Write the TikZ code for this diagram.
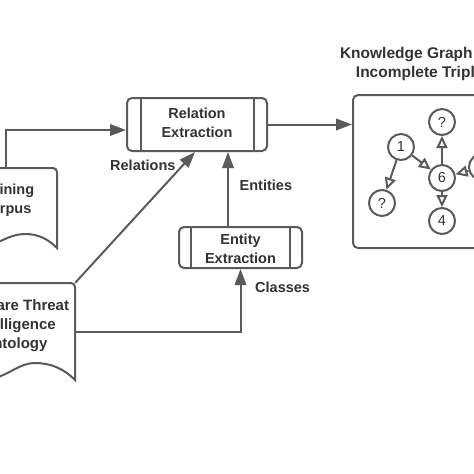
\documentclass[tikz,border=0pt]{standalone}
\usepackage{fontspec}
\setmainfont{Liberation Sans}
\usetikzlibrary{arrows.meta,calc}
\definecolor{ln}{HTML}{5A5A5A}
\definecolor{tx}{HTML}{333333}
\begin{document}
\begin{tikzpicture}[x=1pt,y=-1pt,
  line/.style={draw=ln,line width=2pt},
  arr/.style={line,-{Triangle[length=16pt,width=11.5pt]}},
  garr/.style={line,-{Triangle[open,length=12pt,width=11pt]}},
  bigfont/.style={font=\bfseries\fontsize{14.5}{19}\selectfont},
  titlefont/.style={font=\bfseries\fontsize{15.5}{19}\selectfont},
  proc/.style={line,rounded corners=5pt,inner sep=0pt,align=center,text=tx,bigfont},
  lbl/.style={text=tx,bigfont,inner sep=0pt},
  doc/.style={inner sep=0pt},
  gn/.style={circle,line,minimum size=26pt,inner sep=0pt,text=tx,font=\fontsize{14.5}{16}\selectfont},
]
\useasboundingbox (0,0) rectangle (474,474);
\fill[white] (0,0) rectangle (474,474);
\clip (0,0) rectangle (474,474);

% process boxes
\node[proc,minimum width=140pt,minimum height=53pt] (re) at (197,124.5) {};
\node[lbl,align=center] (ret) at (197,122.5) {Relation\\Extraction};
\draw[line] ([xshift=15pt]re.north west) -- ([xshift=15pt]re.south west);
\draw[line] ([xshift=-14pt]re.north east) -- ([xshift=-14pt]re.south east);

\node[proc,minimum width=123pt,minimum height=41pt] (ee) at (240.5,247.5) {};
\node[lbl,align=center] (eet) at (240.5,248.5) {Entity\\Extraction};
\draw[line] ([xshift=13pt]ee.north west) -- ([xshift=13pt]ee.south west);
\draw[line] ([xshift=-13pt]ee.north east) -- ([xshift=-13pt]ee.south east);

% documents
\node[doc,minimum width=102pt,minimum height=80pt] (tc) at (6,208) {};
\draw[line] (-45,244) [rounded corners=4pt] -- (-45,168) -- (57,168) [sharp corners] -- (57,248)
  .. controls (47,238) and (37,234) .. (25,234)
  .. controls (10,234) and (0,243) .. (-15,247)
  .. controls (-28,250) and (-38,248) .. (-45,244) -- cycle;
\node[lbl,align=center] (tct) at (6,200) {Training\\Corpus};

\node[doc,minimum width=118pt,minimum height=97pt] (ont) at (16,331.5) {};
\draw[line] (-43,376) [rounded corners=4pt] -- (-43,283) -- (75,283) [sharp corners] -- (75,380)
  .. controls (63,368) and (50,363) .. (35,363)
  .. controls (20,363) and (10,374) .. (-5,378)
  .. controls (-20,382) and (-33,380) .. (-43,376) -- cycle;
\node[lbl,align=center,font=\bfseries\fontsize{15}{19}\selectfont] (ontt) at (14.5,325.5) {Malware Threat\\Intelligence\\Ontology};

% knowledge graph box
\node[line,rounded corners=5pt,minimum width=137pt,minimum height=153pt] (kg) at (421.5,171.5) {};
\node[lbl,align=center,titlefont] (kgt) at (424,64) {Knowledge Graph with\\Incomplete Triples};

% connectors
\draw[arr] (tc.north) |- ([yshift=-5.5pt]re.west);
\draw[arr] (ont.north east) -- ([xshift=-2pt]re.south);
\draw[arr] ([xshift=-12.5pt]ee.north) -- ([xshift=-12.5pt]ee.north |- re.south);
\draw[arr] (ont.east) -| (ee.south);
\draw[arr] (re.east) -- (re.east -| kg.west);

% labels
\node[lbl,anchor=west] (rl) at (110,165) {Relations};
\node[lbl,anchor=west] (el) at (239.5,185) {Entities};
\node[lbl,anchor=west] (cl) at (255,287) {Classes};

% graph
\node[gn] (q1) at (442,122) {?};
\node[gn] (n1) at (401,147) {1};
\node[gn] (n6) at (442,178) {6};
\node[gn] (q2) at (382,203) {?};
\node[gn] (n4) at (442,221) {4};
\node[gn] (nr) at (482,167) {};
\draw[garr] (n6) -- (q1);
\draw[garr] (n1) -- (n6);
\draw[garr] (n1) -- (q2);
\draw[garr] (n6) -- (n4);
\draw[garr] (nr) -- (n6);
\end{tikzpicture}
\end{document}
